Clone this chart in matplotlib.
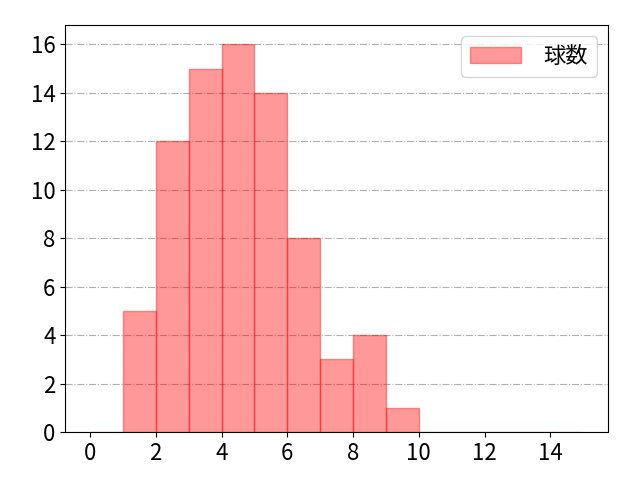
import numpy as np
import matplotlib
matplotlib.use("Agg")
import matplotlib.pyplot as plt

plt.rcParams['font.family'] = ['Noto Sans CJK JP', 'DejaVu Sans']

# pitch count per at-bat bin (0-1, 1-2, ..., 14-15)
bin_edges = list(range(0, 16))
counts = [0, 5, 12, 15, 16, 14, 8, 3, 4, 1, 0, 0, 0, 0, 0]
label = "球数"

fig, ax = plt.subplots(figsize=(6.4, 4.8), dpi=100)
ax.hist(bin_edges[:-1], bins=bin_edges, weights=counts,
        color='red', alpha=0.4, edgecolor='red', label=label)
ax.grid(axis='y', linestyle='-.', color='#b0b0b0')
ax.set_axisbelow(True)
ax.set_xticks(range(0, 16, 2))
ax.set_yticks(range(0, 17, 2))
ax.tick_params(labelsize=16)
ax.legend(fontsize=16, loc='upper right', handlelength=2.3, handletextpad=1.0)
fig.subplots_adjust(left=0.102, right=0.95, top=0.948, bottom=0.1)
plt.savefig("out.png")
